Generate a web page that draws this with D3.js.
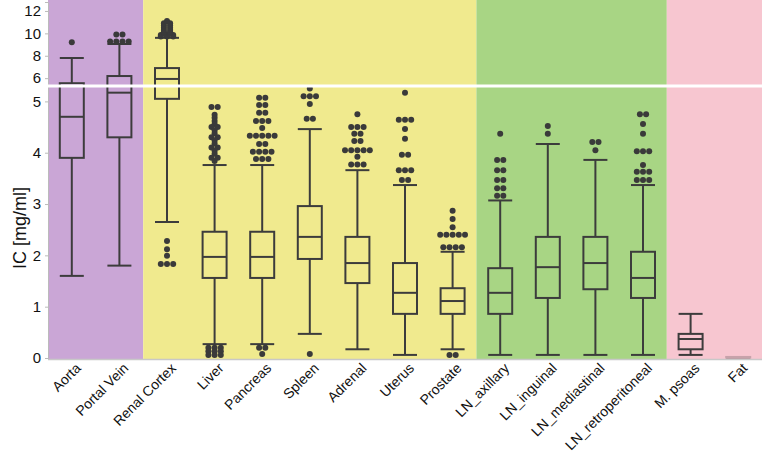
<!DOCTYPE html>
<html>
<head>
<meta charset="utf-8">
<script src="https://cdn.jsdelivr.net/npm/d3@7"></script>
<style>
  body { margin: 0; background: #fff; }
  svg { display: block; font-family: "Liberation Sans", Arial, sans-serif; }
</style>
</head>
<body>
<script>
'use strict';

// categories along the x axis
const categories = ["Aorta", "Portal Vein", "Renal Cortex", "Liver", "Pancreas", "Spleen", "Adrenal",
  "Uterus", "Prostate", "LN_axillary", "LN_inguinal", "LN_mediastinal", "LN_retroperitoneal", "M. psoas", "Fat"];

// box plot stats (mg/ml)
const whiskerLow  = [1.6, 1.8, 2.65, 0.27, 0.27, 0.47, 0.17, 0.06, 0.17, 0.06, 0.06, 0.06, 0.06, 0.06, 0.0];
const q1          = [3.9, 4.3, 5.05, 1.56, 1.56, 1.93, 1.46, 0.86, 0.86, 0.86, 1.17, 1.34, 1.17, 0.17, 0.01];
const median      = [4.7, 5.17, 5.93, 1.97, 1.97, 2.36, 1.85, 1.27, 1.11, 1.27, 1.77, 1.85, 1.56, 0.37, 0.01];
const q3          = [5.55, 6.19, 6.9, 2.46, 2.46, 2.96, 2.36, 1.85, 1.36, 1.75, 2.36, 2.36, 2.07, 0.47, 0.02];
const whiskerHigh = [7.8, 9.05, 9.6, 3.76, 3.76, 4.46, 3.66, 3.37, 2.07, 3.07, 4.17, 3.86, 3.37, 0.86, 0.02];

// outlier values per category (repeated values sit side by side)
const outliers = [
  [9.2],
  [9.27, 9.27, 9.27, 9.27, 9.9, 9.9],
  [9.72, 9.72, 9.72, 9.86, 9.86, 9.86, 10.0, 10.0, 10.15, 10.15, 10.3, 10.3, 10.5, 10.5, 10.7, 10.7, 10.9, 10.9, 11.1,
   2.28, 2.12, 1.99, 1.83, 1.83, 1.83],
  [4.89, 4.89, 4.74, 4.68, 4.62, 4.56, 4.5, 4.5, 4.44, 4.38, 4.3, 4.3, 4.24, 4.18, 4.1, 4.1, 4.04, 3.98, 3.9, 3.9, 3.84,
   0.2, 0.2, 0.2, 0.13, 0.13, 0.13, 0.06, 0.06, 0.06],
  [5.07, 5.07, 4.93, 4.93, 4.78, 4.78, 4.62, 4.62, 4.62, 4.48, 4.33, 4.33, 4.33, 4.33, 4.33, 4.17, 4.17,
   4.02, 4.02, 4.02, 4.02, 3.88, 3.88, 3.88, 0.2, 0.2, 0.08],
  [5.25, 5.1, 5.1, 5.1, 4.95, 4.66, 4.66, 0.08],
  [4.75, 4.5, 4.5, 4.5, 4.37, 4.37, 4.23, 4.23, 4.05, 4.05, 4.05, 4.05, 4.05, 3.92, 3.77, 3.77, 3.77],
  [5.17, 4.64, 4.64, 4.64, 4.46, 4.27, 3.96, 3.96, 3.66, 3.66, 3.66, 3.47, 3.47],
  [2.87, 2.71, 2.55, 2.4, 2.4, 2.4, 2.4, 2.4, 2.16, 2.16, 2.16, 2.16, 0.06, 0.06],
  [4.37, 3.86, 3.86, 3.66, 3.66, 3.47, 3.47, 3.31, 3.31, 3.16, 3.16],
  [4.52, 4.37],
  [4.21, 4.21, 4.05],
  [4.75, 4.75, 4.56, 4.37, 4.03, 4.03, 4.03, 3.76, 3.63, 3.63, 3.63, 3.47, 3.47, 3.47],
  [],
  []
];

// background tissue groups: first and last category of each band
const groupStart = ["Aorta", "Renal Cortex", "LN_axillary", "M. psoas"];
const groupEnd   = ["Portal Vein", "Prostate", "LN_retroperitoneal", "Fat"];
const groupColor = ["#caa6d6", "#f0ea8e", "#a8d584", "#f7c6d0"];

const yTicks = [0, 1, 2, 3, 4, 5, 6, 8, 10, 12];
const faint = ["Fat"];

(function() {
  const width = 762, height = 457;
  const left = 48, right = 762, plotTop = 0, plotBottom = 358;
  const breakValue = 5.3, breakY = 86;

  const svg = d3.select('body').append('svg')
    .attr('width', width)
    .attr('height', height);

  const x = d3.scaleBand()
    .domain(categories)
    .range([left, right])
    .padding(0);

  // broken axis: stretched linear part below the break, compressed above
  const y = d3.scaleLinear()
    .domain([0, breakValue, 12.8])
    .range([plotBottom, breakY, 2]);

  // which band colour a category sits in
  function groupOf(c) {
    return groupStart.findIndex((s, k) => x(c) >= x(s) && x(c) <= x(groupEnd[k]));
  }

  // background bands
  groupStart.forEach((g, i) => {
    svg.append('rect')
      .attr('x', x(g))
      .attr('y', plotTop)
      .attr('width', x(groupEnd[i]) + x.bandwidth() - x(g))
      .attr('height', plotBottom + 1 - plotTop)
      .attr('fill', groupColor[i]);
  });

  // bottom edge line
  svg.append('line')
    .attr('x1', left).attr('x2', right)
    .attr('y1', plotBottom + 1.5).attr('y2', plotBottom + 1.5)
    .attr('stroke', '#c8c8c8')
    .attr('stroke-width', 1.5);

  // y axis
  const yAxis = d3.axisLeft(y).tickValues(yTicks).tickSize(3).tickPadding(4);
  const gy = svg.append('g')
    .attr('transform', 'translate(' + left + ',0)')
    .call(yAxis);
  gy.select('.domain').attr('stroke', '#bbbbbb');
  gy.selectAll('.tick line').attr('stroke', '#bbbbbb');
  gy.selectAll('.tick text')
    .attr('fill', '#111')
    .style('font-size', '15px')
    .style('font-family', '"Liberation Sans", Arial, sans-serif');

  svg.append('text')
    .attr('transform', 'translate(20,228)rotate(-90)')
    .attr('text-anchor', 'middle')
    .attr('dy', '0.35em')
    .style('font-size', '18px')
    .attr('fill', '#111')
    .text('IC [mg/ml]');

  // x labels
  categories.forEach((c) => {
    const cx = x(c) + x.bandwidth() / 2;
    svg.append('text')
      .attr('transform', 'translate(' + (cx + 4) + ',' + (plotBottom + 5) + ')rotate(-45)')
      .attr('text-anchor', 'end')
      .attr('dy', '0.6em')
      .style('font-size', '14px')
      .attr('fill', '#111')
      .text(c);
  });

  // box plots
  const stroke = '#3c3c3c';
  const boxW = 24, capW = 24;
  const dotR = 3, dotGap = 6.2;

  categories.forEach((c, i) => {
    const cx = x(c) + x.bandwidth() / 2;
    const g = svg.append('g')
      .attr('opacity', faint.includes(c) ? 0.25 : 1);

    // whisker stem
    g.append('line')
      .attr('x1', cx).attr('x2', cx)
      .attr('y1', y(whiskerLow[i])).attr('y2', y(whiskerHigh[i]))
      .attr('stroke', stroke).attr('stroke-width', 2);

    // caps
    [whiskerLow[i], whiskerHigh[i]].forEach((v) => {
      g.append('line')
        .attr('x1', cx - capW / 2).attr('x2', cx + capW / 2)
        .attr('y1', y(v)).attr('y2', y(v))
        .attr('stroke', stroke).attr('stroke-width', 2);
    });

    // box
    g.append('rect')
      .attr('x', cx - boxW / 2)
      .attr('y', y(q3[i]))
      .attr('width', boxW)
      .attr('height', Math.max(0.5, y(q1[i]) - y(q3[i])))
      .attr('fill', groupColor[groupOf(c)])
      .attr('stroke', stroke).attr('stroke-width', 2);

    // median
    g.append('line')
      .attr('x1', cx - boxW / 2).attr('x2', cx + boxW / 2)
      .attr('y1', y(median[i])).attr('y2', y(median[i]))
      .attr('stroke', stroke).attr('stroke-width', 2);

    // outliers: group equal values into a row
    const rows = d3.rollups(outliers[i], (v) => v.length, (v) => v);
    rows.forEach(([v, n]) => {
      for (let k = 0; k < n; k++) {
        g.append('circle')
          .attr('cx', cx + (k - (n - 1) / 2) * dotGap)
          .attr('cy', y(v))
          .attr('r', dotR)
          .attr('fill', '#3a3a3a');
      }
    });
  });

  // white break strip drawn over the marks, as in the original
  svg.append('rect')
    .attr('x', left)
    .attr('y', breakY - 1.5)
    .attr('width', right - left)
    .attr('height', 3)
    .attr('fill', '#ffffff');
})();
</script>
</body>
</html>
